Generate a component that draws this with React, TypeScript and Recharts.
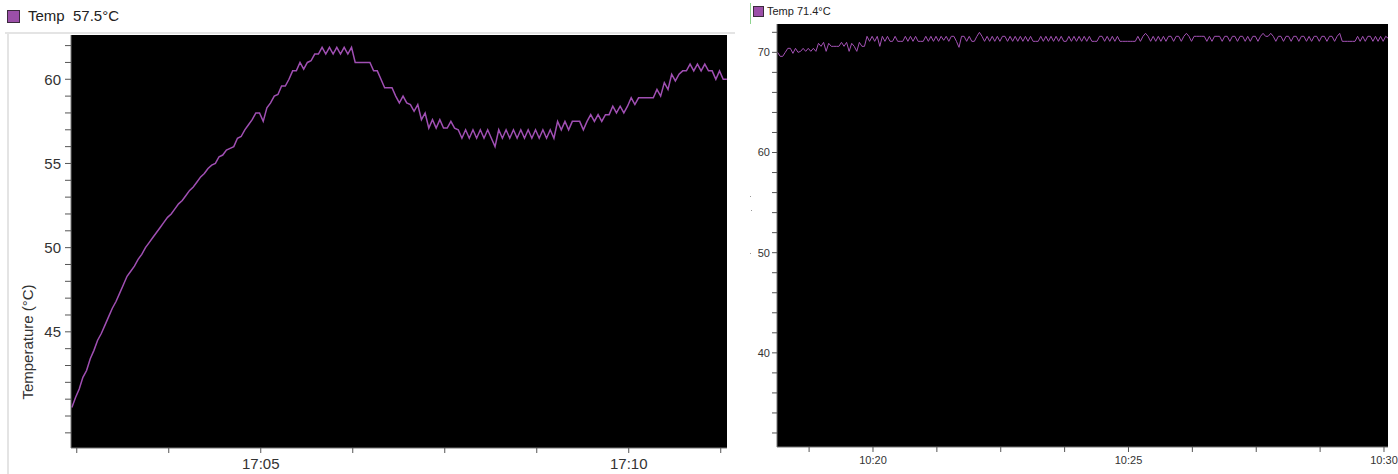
import { LineChart, Line, XAxis, YAxis, CartesianGrid } from 'recharts';

const font = '"Liberation Sans", Arial, sans-serif';

// left panel: samples every 3 s, seconds since 17:00
const leftStart = 146;
const leftStep = 3;
const leftTemps = [
    40.5, 41.1, 41.6, 42.3, 42.7, 43.4, 43.9, 44.5, 44.9, 45.4,
    45.9, 46.4, 46.8, 47.3, 47.8, 48.3, 48.6, 48.9, 49.3, 49.6,
    50.0, 50.3, 50.6, 50.9, 51.2, 51.5, 51.8, 52.0, 52.3, 52.6,
    52.8, 53.1, 53.4, 53.6, 53.9, 54.2, 54.4, 54.7, 54.9, 55.0,
    55.4, 55.5, 55.8, 55.9, 56.0, 56.5, 56.6, 57.0, 57.3, 57.6,
    58.0, 58.0, 57.5, 58.3, 58.6, 59.0, 59.1, 59.6, 59.6, 60.0,
    60.5, 60.5, 61.0, 60.6, 61.0, 61.1, 61.5, 61.5, 61.9, 61.5,
    61.9, 61.5, 61.9, 61.5, 61.9, 61.5, 61.9, 61.0, 61.0, 61.0,
    61.0, 61.0, 60.5, 60.5, 60.0, 59.5, 59.5, 59.5, 59.0, 58.6,
    59.0, 58.6, 58.5, 58.1, 58.5, 57.6, 58.0, 57.1, 57.6, 57.1,
    57.6, 57.1, 57.1, 57.5, 57.1, 57.0, 56.5, 57.0, 56.5, 57.0,
    56.5, 57.0, 56.5, 57.0, 56.5, 56.0, 57.0, 56.5, 57.0, 56.5,
    57.0, 56.5, 57.0, 56.5, 57.0, 56.5, 57.0, 56.5, 57.0, 56.5,
    57.0, 56.5, 57.5, 57.0, 57.5, 57.0, 57.5, 57.5, 57.5, 57.0,
    57.5, 57.9, 57.5, 57.9, 57.5, 57.9, 57.9, 58.4, 58.0, 58.4,
    58.0, 58.4, 58.9, 58.5, 58.9, 58.9, 58.9, 58.9, 58.9, 59.4,
    59.0, 59.8, 59.4, 60.3, 59.9, 60.3, 60.5, 60.5, 60.9, 60.5,
    60.9, 60.5, 60.9, 60.5, 60.5, 60.0, 60.5, 60.0, 60.0,
];
const leftXTicks = [150, 225, 300, 375, 450, 525, 600, 675];
const leftYTicks = [39, 40, 41, 42, 43, 44, 45, 46, 47, 48, 49, 50, 51, 52, 53, 54, 55, 56, 57, 58, 59, 60, 61, 62];
const leftYLabels = [45, 50, 55, 60];

// right panel: samples every 3 s, seconds since 10:00
const rightStart = 1088;
const rightStep = 3;
const rightTemps = [
    70.0, 69.6, 69.6, 70.0, 70.4, 70.4, 69.9, 70.4, 70.0, 70.1, 70.4, 70.1, 70.4, 70.1, 70.4, 70.1, 70.9, 70.6, 71.0, 70.1,
    70.9, 70.6, 70.6, 70.6, 70.6, 71.0, 70.6, 71.0, 70.1, 70.9, 70.6, 70.1, 71.0, 70.6, 70.6, 71.6, 71.1, 71.6, 71.1, 71.6,
    70.6, 71.6, 71.1, 71.6, 71.1, 71.1, 71.6, 71.1, 71.1, 71.1, 71.6, 71.1, 71.6, 71.1, 71.6, 71.1, 71.1, 71.1, 71.6, 71.1,
    71.6, 71.1, 71.6, 71.1, 71.6, 71.2, 71.6, 71.1, 71.6, 71.6, 71.1, 70.5, 71.6, 71.6, 71.1, 71.6, 71.1, 71.1, 71.6, 72.0,
    71.6, 71.1, 71.6, 71.1, 71.6, 71.1, 71.6, 71.1, 71.6, 71.6, 71.1, 71.6, 71.1, 71.6, 71.1, 71.6, 71.1, 71.6, 71.1, 71.6,
    71.1, 71.1, 71.1, 71.6, 71.1, 71.6, 71.1, 71.6, 71.1, 71.6, 71.1, 71.6, 71.1, 71.1, 71.6, 71.1, 71.6, 71.1, 71.6, 71.1,
    71.6, 71.1, 71.6, 71.1, 71.1, 71.1, 71.6, 71.6, 71.1, 71.6, 71.1, 71.6, 71.1, 71.6, 71.1, 71.1, 71.1, 71.1, 71.1, 71.1,
    71.1, 71.6, 71.1, 71.6, 71.9, 71.6, 71.1, 71.6, 71.1, 71.6, 71.1, 71.6, 71.1, 71.6, 71.6, 71.1, 71.6, 71.6, 71.1, 71.6,
    71.9, 71.6, 71.1, 71.6, 71.6, 71.6, 71.6, 71.6, 71.1, 71.6, 71.1, 71.6, 71.6, 71.6, 71.1, 71.6, 71.6, 71.1, 71.6, 71.6,
    71.1, 71.6, 71.6, 71.1, 71.6, 71.1, 71.6, 71.6, 71.1, 71.6, 71.9, 71.6, 71.6, 71.9, 71.6, 71.1, 71.6, 71.6, 71.1, 71.6,
    71.6, 71.1, 71.6, 71.6, 71.1, 71.6, 71.6, 71.1, 71.6, 71.1, 71.6, 71.6, 71.1, 71.6, 71.6, 71.1, 71.6, 71.6, 71.1, 71.6,
    71.9, 71.1, 71.1, 71.1, 71.1, 71.1, 71.1, 71.6, 71.1, 71.6, 71.1, 71.6, 71.6, 71.1, 71.6, 71.1, 71.6, 71.1, 71.6, 71.4,
];
const rightXTicks = [1125, 1200, 1275, 1350, 1425, 1500, 1575, 1650, 1725, 1800];
const rightYTicks = [32, 34, 36, 38, 40, 42, 44, 46, 48, 50, 52, 54, 56, 58, 60, 62, 64, 66, 68, 70, 72];
const rightYLabels = [40, 50, 60, 70];

const leftData = leftTemps.map((temp, i) => ({ t: leftStart + i * leftStep, temp }));
const rightData = rightTemps.map((temp, i) => ({ t: rightStart + i * rightStep, temp }));

const fmtLeftX = (s: number) => (s % 300 === 0 ? `17:${String(s / 60).padStart(2, '0')}` : '');
const fmtRightX = (s: number) => (s % 300 === 0 ? `10:${String(s / 60).padStart(2, '0')}` : '');
const fmtLeftY = (v: number) => (leftYLabels.includes(v) ? String(v) : '');
const fmtRightY = (v: number) => (rightYLabels.includes(v) ? String(v) : '');

export default function App() {
    return (
        <div style={{ position: 'absolute', left: 0, top: 0, width: 1398, height: 474, background: '#fff', fontFamily: font, overflow: 'hidden' }}>
            {/* left panel */}
            <div style={{ position: 'absolute', left: 5, top: 32, width: 730, height: 2, background: '#e4e4e4' }} />
            <div style={{ position: 'absolute', left: 7, top: 33, width: 2, height: 441, background: '#e4e4e4' }} />
            <div style={{ position: 'absolute', left: 7, top: 10, width: 11, height: 11, background: '#9b4fa8', border: '1px solid #3b2a3d' }} />
            <div style={{ position: 'absolute', left: 28, top: 7, fontSize: 15, color: '#222', whiteSpace: 'pre' }}>Temp  57.5°C</div>
            <div
                style={{
                    position: 'absolute', left: 27, top: 342, fontSize: 15, color: '#333', whiteSpace: 'nowrap',
                    transform: 'translate(-50%, -50%) rotate(-90deg)',
                }}
            >
                Temperature (°C)
            </div>
            <div style={{ position: 'absolute', left: 0, top: 0 }}>
                <LineChart width={735} height={474} data={leftData} margin={{ top: 35, right: 8, bottom: 0, left: 30 }}>
                    <CartesianGrid horizontal={false} vertical={false} fill="#000" fillOpacity={1} />
                    <XAxis
                        dataKey="t"
                        type="number"
                        domain={[145.3, 680.1]}
                        ticks={leftXTicks}
                        tickFormatter={fmtLeftX}
                        allowDataOverflow
                        height={26}
                        tickSize={5}
                        tickMargin={5}
                        interval={0}
                        axisLine={{ stroke: '#777' }}
                        tickLine={{ stroke: '#555' }}
                        tick={{ fill: '#333', fontSize: 15, fontFamily: font }}
                    />
                    <YAxis
                        type="number"
                        domain={[38.1, 62.63]}
                        ticks={leftYTicks}
                        tickFormatter={fmtLeftY}
                        allowDataOverflow
                        width={41}
                        tickSize={6}
                        tickMargin={4}
                        interval={0}
                        axisLine={{ stroke: '#777' }}
                        tickLine={{ stroke: '#555' }}
                        tick={{ fill: '#333', fontSize: 15, fontFamily: font }}
                    />
                    <Line type="linear" dataKey="temp" stroke="#a04fb3" strokeWidth={1.5} dot={false} isAnimationActive={false} />
                </LineChart>
            </div>

            {/* right panel */}
            <div style={{ position: 'absolute', left: 750, top: 3, width: 1, height: 21, background: '#8fd48f' }} />
            <div style={{ position: 'absolute', left: 753, top: 6, width: 9, height: 9, background: '#9b4fa8', border: '1px solid #3b2a3d' }} />
            <div style={{ position: 'absolute', left: 767, top: 5, fontSize: 11, color: '#222' }}>Temp 71.4°C</div>
            <div style={{ position: 'absolute', left: 750, top: 196, width: 1, height: 1, background: '#999' }} />
            <div style={{ position: 'absolute', left: 751, top: 210, width: 1, height: 1, background: '#999' }} />
            <div style={{ position: 'absolute', left: 750, top: 253, width: 1, height: 1, background: '#999' }} />
            <div style={{ position: 'absolute', left: 740, top: 0 }}>
                <LineChart width={658} height={474} data={rightData} margin={{ top: 24, right: 10, bottom: 0, left: 7 }}>
                    <CartesianGrid horizontal={false} vertical={false} fill="#000" fillOpacity={1} />
                    <XAxis
                        dataKey="t"
                        type="number"
                        domain={[1087.3, 1804.7]}
                        ticks={rightXTicks}
                        tickFormatter={fmtRightX}
                        allowDataOverflow
                        height={27}
                        tickSize={5}
                        tickMargin={4}
                        interval={0}
                        axisLine={{ stroke: '#777' }}
                        tickLine={{ stroke: '#555' }}
                        tick={{ fill: '#333', fontSize: 11, fontFamily: font }}
                    />
                    <YAxis
                        type="number"
                        domain={[30.6, 72.83]}
                        ticks={rightYTicks}
                        tickFormatter={fmtRightY}
                        allowDataOverflow
                        width={30}
                        tickSize={5}
                        tickMargin={2}
                        interval={0}
                        axisLine={{ stroke: '#777' }}
                        tickLine={{ stroke: '#555' }}
                        tick={{ fill: '#333', fontSize: 11, fontFamily: font }}
                    />
                    <Line type="linear" dataKey="temp" stroke="#a452b5" strokeWidth={1} dot={false} isAnimationActive={false} />
                </LineChart>
            </div>
        </div>
    );
}
